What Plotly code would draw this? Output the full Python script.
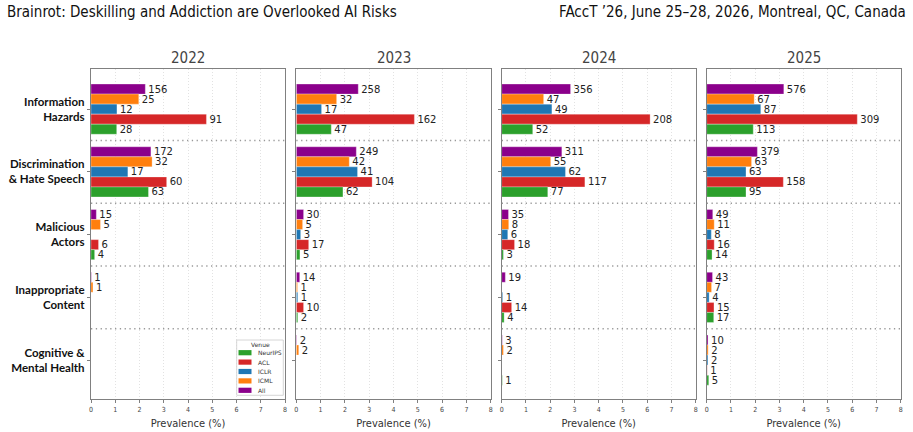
import plotly.graph_objects as go

W, H = 913, 432

YEARS = ["2022", "2023", "2024", "2025"]
CATEGORIES = ["Information<br>Hazards", "Discrimination<br>& Hate Speech", "Malicious<br>Actors",
              "Inappropriate<br>Content", "Cognitive &<br>Mental Health"]
VENUES = ["All", "ICML", "ICLR", "ACL", "NeurIPS"]
COLORS = ["#8b008b", "#ff7f0e", "#1f77b4", "#d62728", "#2ca02c"]

# prevalence (%) per year (rows) and category (columns)
ALL_PCT = [[2.24, 2.47, 0.22, 0.015, 0], [2.55, 2.47, 0.30, 0.14, 0.02],
           [2.84, 2.48, 0.28, 0.15, 0.024], [3.18, 2.09, 0.25, 0.24, 0.055]]
ICML_PCT = [[1.97, 2.52, 0.39, 0.08, 0], [1.66, 2.18, 0.26, 0.05, 0.10],
            [1.73, 2.02, 0.29, 0, 0.07], [1.96, 1.85, 0.31, 0.20, 0.06]]
ICLR_PCT = [[1.07, 1.52, 0, 0, 0], [1.04, 2.52, 0.18, 0.06, 0],
            [2.07, 2.63, 0.25, 0.04, 0], [2.23, 1.62, 0.19, 0.10, 0.05]]
ACL_PCT = [[4.76, 3.12, 0.31, 0, 0], [4.86, 3.12, 0.51, 0.30, 0],
           [6.12, 3.43, 0.53, 0.41, 0], [6.21, 3.16, 0.31, 0.30, 0.02]]
NEURIPS_PCT = [[1.06, 2.37, 0.15, 0, 0], [1.44, 1.92, 0.15, 0.06, 0],
               [1.28, 1.90, 0.07, 0.10, 0.025], [1.92, 1.62, 0.22, 0.29, 0.085]]

# paper counts shown as labels
ALL_N = [[156, 172, 15, 1, 0], [258, 249, 30, 14, 2], [356, 311, 35, 19, 3], [576, 379, 49, 43, 10]]
ICML_N = [[25, 32, 5, 1, 0], [32, 42, 5, 1, 2], [47, 55, 8, 0, 2], [67, 63, 11, 7, 2]]
ICLR_N = [[12, 17, 0, 0, 0], [17, 41, 3, 1, 0], [49, 62, 6, 1, 0], [87, 63, 8, 4, 2]]
ACL_N = [[91, 60, 6, 0, 0], [162, 104, 17, 10, 0], [208, 117, 18, 14, 0], [309, 158, 16, 15, 1]]
NEURIPS_N = [[28, 63, 4, 0, 0], [47, 62, 5, 2, 0], [52, 77, 3, 4, 1], [113, 95, 14, 17, 5]]

X_TICKS = [0, 1, 2, 3, 4, 5, 6, 7, 8]

PCTS = [ALL_PCT, ICML_PCT, ICLR_PCT, ACL_PCT, NEURIPS_PCT]
COUNTS = [ALL_N, ICML_N, ICLR_N, ACL_N, NEURIPS_N]

NARROW = "Liberation Sans Narrow, DejaVu Sans Condensed, sans-serif"

panel_px = [(91, 285), (296.3, 490.7), (501.7, 695.7), (706.7, 900.7)]
y_top, y_bot = 69, 399

fig = go.Figure()
layout = {}
shapes = []
annotations = []

for k, year in enumerate(YEARS):
    xa = "x" if k == 0 else f"x{k+1}"
    ya = "y" if k == 0 else f"y{k+1}"
    for v, venue in enumerate(VENUES):
        counts = COUNTS[v][k]
        fig.add_trace(go.Bar(
            x=PCTS[v][k], y=CATEGORIES, orientation="h",
            xaxis=xa, yaxis=ya, name=venue, showlegend=False,
            marker=dict(color=COLORS[v], line=dict(color="rgba(255,255,255,0.6)", width=0.5)),
            text=[str(c) if c > 0 else "" for c in counts],
            textposition="outside", constraintext="none", cliponaxis=False,
            textfont=dict(family="DejaVu Sans", size=10, color="#222"),
            hoverinfo="skip",
        ))
    x0, x1 = panel_px[k]
    layout["xaxis" if k == 0 else f"xaxis{k+1}"] = dict(
        domain=[x0 / W, x1 / W], anchor=ya, range=[0, 8], tickvals=X_TICKS,
        showgrid=True, gridcolor="#e2e2e2", griddash="1px,2px", gridwidth=1,
        zeroline=False, showline=True, linecolor="#808080", linewidth=1.3, mirror=True,
        ticks="outside", ticklen=3, tickcolor="#808080",
        tickfont=dict(family=NARROW, size=7, color="#444"),
        title=dict(text="Prevalence (%)", font=dict(family=NARROW, size=11, color="#333"), standoff=6),
        automargin=False,
    )
    layout["yaxis" if k == 0 else f"yaxis{k+1}"] = dict(
        domain=[1 - y_bot / H, 1 - y_top / H], anchor=xa, type="category",
        categoryorder="array", categoryarray=CATEGORIES, range=[4.62, -0.64],
        showgrid=False, zeroline=False, showline=True, linecolor="#808080", linewidth=1.3, mirror=True,
        ticks="outside", ticklen=3, tickcolor="#808080",
        showticklabels=(k == 0),
        tickfont=dict(family="Lato, Noto Sans, sans-serif", size=11.5, color="#111", weight="bold"),
        automargin=False,
    )
    for i in range(len(CATEGORIES) - 1):
        shapes.append(dict(type="line", xref=f"{xa} domain", yref=ya, x0=0, x1=1, y0=i + 0.5, y1=i + 0.5,
                           line=dict(color="#999999", width=1.3, dash="1.3px,3.5px")))
    annotations.append(dict(text=year, xref=f"{xa} domain", yref="paper", x=0.5, y=1 - 58 / H,
                            xanchor="center", yanchor="middle", showarrow=False,
                            font=dict(family=NARROW, size=15, color="#444")))

# header
annotations.append(dict(text="Brainrot: Deskilling and Addiction are Overlooked AI Risks", xref="paper", yref="paper",
                        x=5 / W, y=1 - 12 / H, xanchor="left", yanchor="middle", showarrow=False,
                        font=dict(family=NARROW, size=15, color="#111")))
annotations.append(dict(text="FAccT ’26, June 25–28, 2026, Montreal, QC, Canada", xref="paper", yref="paper",
                        x=908 / W, y=1 - 12 / H, xanchor="right", yanchor="middle", showarrow=False,
                        font=dict(family=NARROW, size=15, color="#111")))

# legend (inside 2022 panel, bottom right)
lx0, lx1, ly0, ly1 = 236.7, 283.3, 340, 395.3
shapes.append(dict(type="rect", xref="paper", yref="paper", x0=lx0 / W, x1=lx1 / W,
                   y0=1 - ly1 / H, y1=1 - ly0 / H, line=dict(color="#cccccc", width=0.8), fillcolor="white"))
annotations.append(dict(text="Venue", xref="paper", yref="paper", x=(lx0 + lx1) / 2 / W, y=1 - 344.5 / H,
                        xanchor="center", yanchor="middle", showarrow=False,
                        font=dict(family="DejaVu Sans", size=6, color="#333")))
legend_order = list(range(len(VENUES)))[::-1]
for j, v in enumerate(legend_order):
    cy = 352.7 + j * 9.4
    shapes.append(dict(type="rect", xref="paper", yref="paper", x0=238.5 / W, x1=251.5 / W,
                       y0=1 - (cy + 2.6) / H, y1=1 - (cy - 2.6) / H, line=dict(width=0), fillcolor=COLORS[v]))
    annotations.append(dict(text=VENUES[v], xref="paper", yref="paper", x=255.5 / W, y=1 - cy / H,
                            xanchor="left", yanchor="middle", showarrow=False,
                            font=dict(family="DejaVu Sans", size=6, color="#333")))

fig.update_layout(
    width=W, height=H, margin=dict(l=0, r=0, t=0, b=0),
    paper_bgcolor="white", plot_bgcolor="white",
    barmode="group", bargap=0.2, bargroupgap=0,
    shapes=shapes, annotations=annotations, showlegend=False,
    **layout,
)

fig.write_html("out.html")
